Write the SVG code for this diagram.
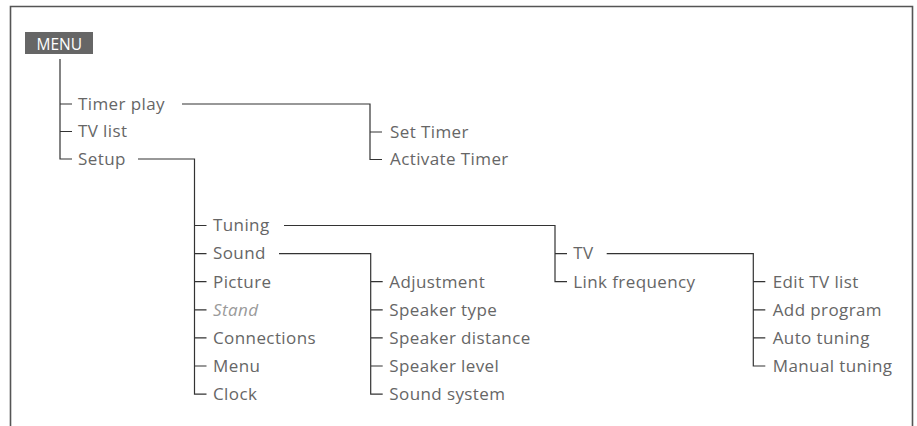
<svg xmlns="http://www.w3.org/2000/svg" width="917" height="426" viewBox="0 0 917 426">
<style>
.t{font-family:"Open Sans","Noto Sans",sans-serif;font-size:17px;letter-spacing:0.4px;fill:#666}
.it{font-style:italic;fill:#9a9a9a}
.ln{fill:none;stroke:#333;stroke-width:1.2}
.fr{fill:none;stroke:#555;stroke-width:1.6}
.mt{font-family:"Open Sans","Noto Sans",sans-serif;font-size:15.5px;fill:#fff}
</style>
<rect width="917" height="426" fill="#fff"/>
<path class="fr" d="M10.5,426 V6.5 H912.5 V426"/>
<g id="connectors">
<path class="ln" d="M60,59 V159 H72 M60,104 H72 M60,131.5 H72"/>
<path class="ln" d="M182,104 H370 V159.5 H382 M370,132 H382"/>
<path class="ln" d="M138,159 H194.5 V394.1 H206.5 M194.5,225.5 H206.5 M194.5,253.6 H206.5 M194.5,281.7 H206.5 M194.5,309.8 H206.5 M194.5,337.9 H206.5 M194.5,366 H206.5"/>
<path class="ln" d="M284,225.5 H555 V281.7 H567 M555,253.6 H567"/>
<path class="ln" d="M279,253.6 H370.7 V394.1 H382.7 M370.7,281.7 H382.7 M370.7,309.8 H382.7 M370.7,337.9 H382.7 M370.7,366 H382.7"/>
<path class="ln" d="M606.7,253.6 H753.3 V366 H765.3 M753.3,281.7 H765.3 M753.3,309.8 H765.3 M753.3,337.9 H765.3"/>
</g>
<g id="menu"><rect x="25" y="32" width="68" height="22" fill="#666"/><text class="mt" x="36.5" y="49.8">MENU</text></g>
<g id="timer-play"><text class="t" x="78" y="109.8">Timer play</text></g>
<g id="tv-list"><text class="t" x="78" y="137.3">TV list</text></g>
<g id="setup"><text class="t" x="78" y="164.8">Setup</text></g>
<g id="set-timer"><text class="t" x="390" y="137.8">Set Timer</text></g>
<g id="activate-timer"><text class="t" x="390" y="165.3">Activate Timer</text></g>
<g id="tuning"><text class="t" x="213" y="231.3">Tuning</text></g>
<g id="sound"><text class="t" x="213" y="259.4">Sound</text></g>
<g id="picture"><text class="t" x="213" y="287.5">Picture</text></g>
<g id="stand"><text class="t it" x="213" y="315.6">Stand</text></g>
<g id="connections"><text class="t" x="213" y="343.7">Connections</text></g>
<g id="menu-item"><text class="t" x="213" y="371.8">Menu</text></g>
<g id="clock"><text class="t" x="213" y="399.9">Clock</text></g>
<g id="tv"><text class="t" x="573.3" y="259.4">TV</text></g>
<g id="link-frequency"><text class="t" x="573.3" y="287.5">Link frequency</text></g>
<g id="adjustment"><text class="t" x="389.3" y="287.5">Adjustment</text></g>
<g id="speaker-type"><text class="t" x="389.3" y="315.6">Speaker type</text></g>
<g id="speaker-distance"><text class="t" x="389.3" y="343.7">Speaker distance</text></g>
<g id="speaker-level"><text class="t" x="389.3" y="371.8">Speaker level</text></g>
<g id="sound-system"><text class="t" x="389.3" y="399.9">Sound system</text></g>
<g id="edit-tv-list"><text class="t" x="772.7" y="287.5">Edit TV list</text></g>
<g id="add-program"><text class="t" x="772.7" y="315.6">Add program</text></g>
<g id="auto-tuning"><text class="t" x="772.7" y="343.7">Auto tuning</text></g>
<g id="manual-tuning"><text class="t" x="772.7" y="371.8">Manual tuning</text></g>
</svg>
